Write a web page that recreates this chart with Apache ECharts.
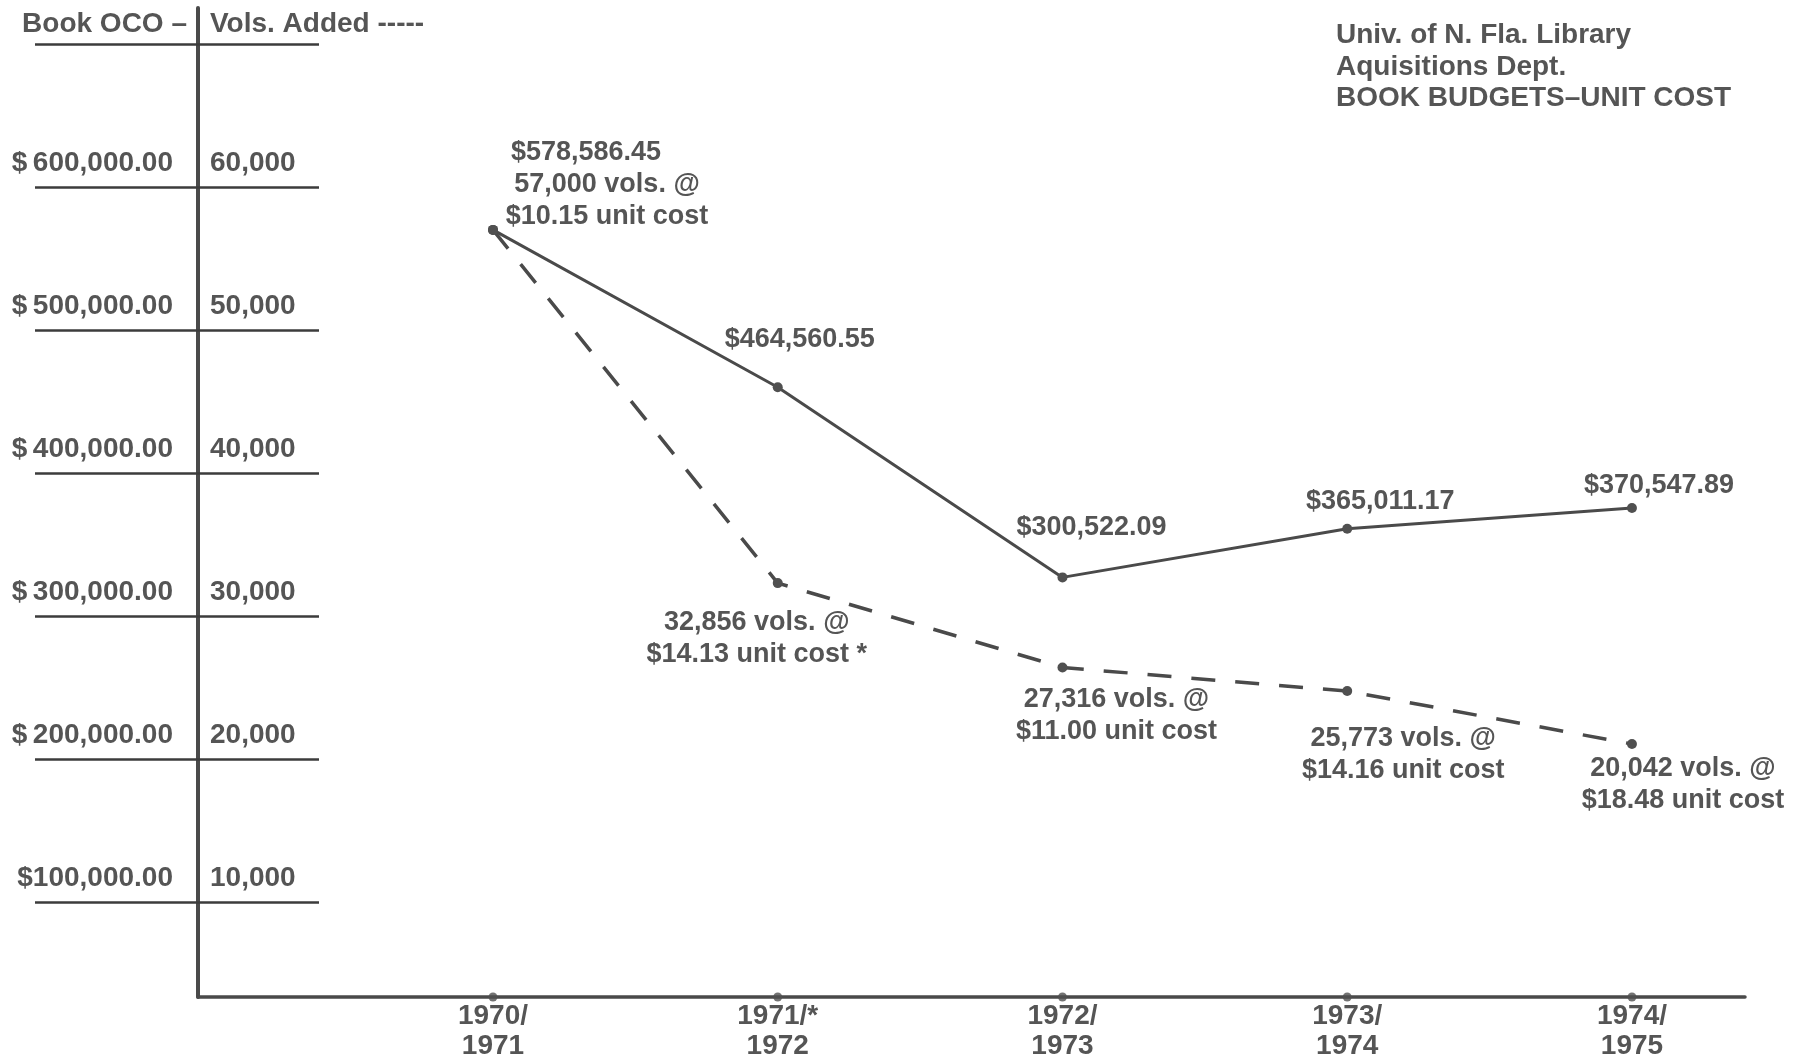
<!DOCTYPE html>
<html><head><meta charset="utf-8">
<script src="https://cdn.jsdelivr.net/npm/echarts@6/dist/echarts.min.js"></script>
<style>html,body{margin:0;padding:0;background:#fff}#c{width:1802px;height:1061px}</style>
</head><body><div id="c"></div>
<script>
// ---- data ----
const years = ["1970/\n1971", "1971/*\n1972", "1972/\n1973", "1973/\n1974", "1974/\n1975"];
const budgetPlotted = [570000, 460000, 327000, 361000, 375500];
const volsPlotted = [57000, 32300, 26400, 24750, 21050];
const budgetLabels = ["$578,586.45", "$464,560.55", "$300,522.09", "$365,011.17", "$370,547.89"];
const volsLabels = [
  "57,000 vols. @\n$10.15 unit cost",
  "32,856 vols. @\n$14.13 unit cost *",
  "27,316 vols. @\n$11.00 unit cost",
  "25,773 vols. @\n$14.16 unit cost",
  "20,042 vols. @\n$18.48 unit cost"
];
const budgetTicks = [100000, 200000, 300000, 400000, 500000, 600000, 700000];
const budgetTickLabels = ["$100,000.00", "$\u2009200,000.00", "$\u2009300,000.00", "$\u2009400,000.00", "$\u2009500,000.00", "$\u2009600,000.00", "Book OCO \u2013"];
const volsTicks = [10000, 20000, 30000, 40000, 50000, 60000, 70000];
const volsTickLabels = ["10,000", "20,000", "30,000", "40,000", "50,000", "60,000", "Vols. Added -----"];
const titleLines = ["Univ. of N. Fla. Library", "Aquisitions Dept.", "BOOK BUDGETS\u2013UNIT COST"];

// ---- layout / style ----
const Y_MIN = 33566, Y_MAX = 725175;
const X_MIN = -1.036, X_MAX = 4.397;
const budgetLabelOffset = [[93, -77], [22, -48], [29, -50], [33, -27], [27, -22]];
const volsLabelOffset = [[114, -29], [-21, 55], [54, 48], [56, 63], [51, 41]];
const FONT = "'Liberation Sans', Arial, Helvetica, sans-serif";
const TXT = '#555555';
const LINE = '#4a4a4a';

const chart = echarts.init(document.getElementById('c'), null, {renderer: 'canvas'});

function idxLabel(arr, ticks) {
  return function (v) {
    const i = ticks.indexOf(v);
    if (i < 0) return '';
    const isHead = i === ticks.length - 1;
    return '{' + (isHead ? 'h' : 'n') + '|' + arr[i] + '}';
  };
}

const labelBase = {fontFamily: FONT, fontSize: 28, fontWeight: 'bold', color: TXT};

const option = {
  animation: false,
  backgroundColor: '#ffffff',
  title: {
    text: titleLines.join('\n'),
    left: 1331, top: 15,
    textStyle: {fontFamily: FONT, fontSize: 28, fontWeight: 'bold', color: TXT, lineHeight: 31.5}
  },
  grid: {left: 198, right: 57, top: 8, bottom: 64, containLabel: false},
  xAxis: {
    type: 'value', min: X_MIN, max: X_MAX,
    axisLine: {show: true, onZero: false, lineStyle: {color: LINE, width: 3.5}},
    axisTick: {show: false},
    splitLine: {show: false},
    axisLabel: {
      customValues: years.map((_, i) => i),
      formatter: v => years[v] !== undefined ? years[v] : '',
      fontFamily: FONT, fontSize: 28, fontWeight: 'bold', color: TXT,
      lineHeight: 30, margin: 4, verticalAlign: 'top'
    }
  },
  yAxis: [
    {
      type: 'value', min: Y_MIN, max: Y_MAX, position: 'left',
      axisLine: {show: true, onZero: false, lineStyle: {color: LINE, width: 4}},
      axisTick: {show: true, customValues: budgetTicks, length: 163, inside: false,
                 lineStyle: {color: '#3c3c3c', width: 2.5}},
      splitLine: {show: false},
      axisLabel: {
        customValues: budgetTicks,
        formatter: idxLabel(budgetTickLabels, budgetTicks),
        margin: 11,
        rich: {
          n: Object.assign({}, labelBase, {padding: [0, 14, 48, 0]}),
          h: Object.assign({}, labelBase, {padding: [0, 0, 40, 0]})
        }
      }
    },
    {
      type: 'value', min: Y_MIN / 10, max: Y_MAX / 10, position: 'left',
      axisLine: {show: false, onZero: false},
      axisTick: {show: true, customValues: volsTicks, length: 121, inside: true,
                 lineStyle: {color: '#3c3c3c', width: 2.5}},
      splitLine: {show: false},
      axisLabel: {
        customValues: volsTicks,
        inside: true,
        formatter: idxLabel(volsTickLabels, volsTicks),
        margin: 12,
        rich: {
          n: Object.assign({}, labelBase, {padding: [0, 0, 48, 0]}),
          h: Object.assign({}, labelBase, {padding: [0, 0, 40, 0]})
        }
      }
    }
  ],
  series: [
    {
      name: 'Book OCO', type: 'line', yAxisIndex: 0,
      data: budgetPlotted.map((v, i) => ({
        value: [i, v],
        label: {offset: budgetLabelOffset[i]}
      })),
      symbol: 'circle', symbolSize: 10,
      itemStyle: {color: '#505050'},
      lineStyle: {color: LINE, width: 3},
      label: {
        show: true, position: 'inside',
        formatter: p => budgetLabels[p.dataIndex],
        fontFamily: FONT, fontSize: 27, fontWeight: 'bold', color: TXT, lineHeight: 32,
        align: 'center', verticalAlign: 'middle'
      },
      z: 3
    },
    {
      name: 'Vols. Added', type: 'line', yAxisIndex: 1,
      data: volsPlotted.map((v, i) => ({
        value: [i, v],
        label: {offset: volsLabelOffset[i]}
      })),
      symbol: 'circle', symbolSize: 10,
      itemStyle: {color: '#505050'},
      lineStyle: {color: LINE, width: 3.5, type: [24, 20]},
      label: {
        show: true, position: 'inside',
        formatter: p => volsLabels[p.dataIndex],
        fontFamily: FONT, fontSize: 27, fontWeight: 'bold', color: TXT, lineHeight: 32,
        align: 'center', verticalAlign: 'middle'
      },
      z: 3
    },
    {
      name: 'ticks', type: 'scatter', yAxisIndex: 0,
      data: years.map((_, i) => [i, Y_MIN]),
      symbol: 'circle', symbolSize: 9,
      itemStyle: {color: '#505050'},
      clip: false, silent: true, z: 4
    }
  ]
};
chart.setOption(option);
</script>
</body></html>
